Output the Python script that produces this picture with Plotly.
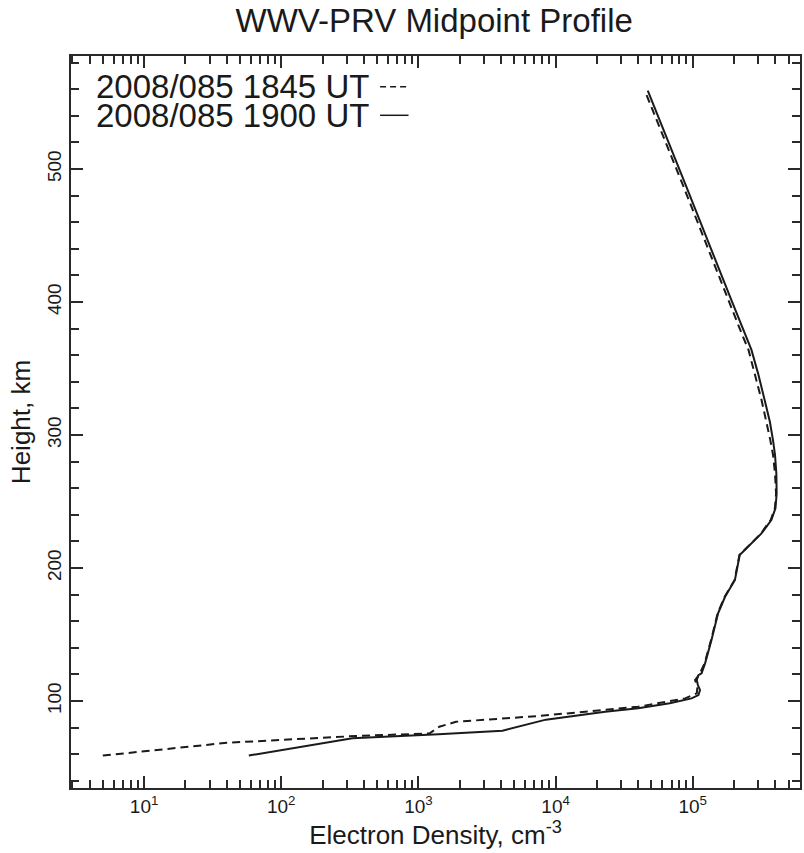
import plotly.graph_objects as go

# ---- data ----
height_1845 = [59, 68.6, 73.7, 75.6, 80.7, 84.4, 88.7, 95.7, 102, 105.8, 110, 115.8, 120,
               128.3, 145.9, 166, 178.4, 191, 209.8, 212.3, 218.6, 226, 231, 236, 245, 256, 271,
               285, 296, 310, 326, 346, 364, 376, 401, 489, 557]
dens_1845 = [5.0, 40, 350, 1200, 1420, 1880, 7500, 40000, 88000, 107000, 108000, 104000, 112000,
             122000, 136000, 152000, 171000, 202000, 219000, 232000, 266000, 315000, 340000, 370000, 397000, 405000, 398000,
             385000, 368000, 345000, 318000, 283000, 255000, 228000, 183000, 84000, 45500]

height_1900 = [59, 72, 75, 77.7, 86, 92, 94.5, 98.3, 102, 104.5, 108.3, 112, 115.8, 119.5, 120.8,
               128.3, 145.9, 166, 178.4, 191, 209.8, 212.3, 218.6, 226, 231, 236, 245, 256, 271,
               285, 296, 310, 326, 346, 364, 376, 401, 489, 559]
dens_1900 = [58, 330, 1400, 4100, 8500, 23000, 40000, 68000, 98000, 110000, 113000, 109000, 107000, 110000, 116000,
             123000, 137000, 153000, 172000, 203000, 220000, 233000, 268000, 317000, 344000, 374000, 401000, 409000, 407000,
             398000, 385000, 365000, 335000, 300000, 268000, 240000, 192000, 88000, 47000]

legend_labels = ["2008/085 1845 UT", "2008/085 1900 UT"]
title_text = "WWV-PRV Midpoint Profile"
x_title = "Electron Density, cm<sup>-3</sup>"
y_title = "Height, km"
x_tickvals = [10, 100, 1000, 10000, 100000]
x_ticktext = ["10<sup>1</sup>", "10<sup>2</sup>", "10<sup>3</sup>", "10<sup>4</sup>", "10<sup>5</sup>"]

FONT = "Liberation Sans, Arial, Helvetica, sans-serif"
INK = "#1a1a1a"
AX = "#2a2a2a"
XR = [0.467, 5.782]
YR = [34.6, 585]

fig = go.Figure()
fig.add_trace(go.Scatter(x=dens_1845, y=height_1845, mode="lines", name=legend_labels[0],
                         line=dict(color=INK, width=2, dash="8px,5px"), showlegend=False))
fig.add_trace(go.Scatter(x=dens_1900, y=height_1900, mode="lines", name=legend_labels[1],
                         line=dict(color=INK, width=2), showlegend=False))

# legend drawn as text followed by a line sample (as in the reference)
leg_y = [0.958, 0.919]
dashes = ["6px,4px", "solid"]
for lab, yy, d in zip(legend_labels, leg_y, dashes):
    fig.add_annotation(xref="paper", yref="paper", x=0.031, y=yy, text=lab, showarrow=False,
                       xanchor="left", yanchor="middle", font=dict(family=FONT, size=33, color=INK))
    fig.add_shape(type="line", xref="paper", yref="paper", x0=0.424, x1=0.463, y0=yy, y1=yy,
                  line=dict(color=INK, width=1.5, dash=d))

fig.update_layout(
    width=804, height=853,
    margin=dict(l=71, r=2, t=56, b=65),
    paper_bgcolor="white", plot_bgcolor="white",
    font=dict(family=FONT, color=INK),
    title=dict(text=title_text, x=0.54, xanchor="center", y=0.976, yanchor="middle",
               font=dict(family=FONT, size=33, color=INK)),
    xaxis=dict(
        type="log", range=XR, tickvals=x_tickvals, ticktext=x_ticktext,
        showline=True, linecolor=AX, linewidth=2, mirror="ticks",
        ticks="inside", ticklen=12, tickwidth=2, tickcolor=AX,
        minor=dict(ticks="inside", ticklen=8, tickwidth=2, tickcolor=AX, dtick="D1"),
        showgrid=False, zeroline=False,
        tickfont=dict(family=FONT, size=19, color=INK),
        title=dict(text=x_title, font=dict(family=FONT, size=26, color=INK), standoff=3),
    ),
    yaxis=dict(
        range=YR, dtick=100, tickangle=-90,
        showline=True, linecolor=AX, linewidth=2, mirror="ticks",
        ticks="inside", ticklen=12, tickwidth=2, tickcolor=AX,
        minor=dict(ticks="inside", ticklen=8, tickwidth=2, tickcolor=AX, dtick=20),
        showgrid=False, zeroline=False,
        tickfont=dict(family=FONT, size=19, color=INK),
        title=dict(text=y_title, font=dict(family=FONT, size=26, color=INK), standoff=6),
    ),
)

fig.write_html("out.html")
